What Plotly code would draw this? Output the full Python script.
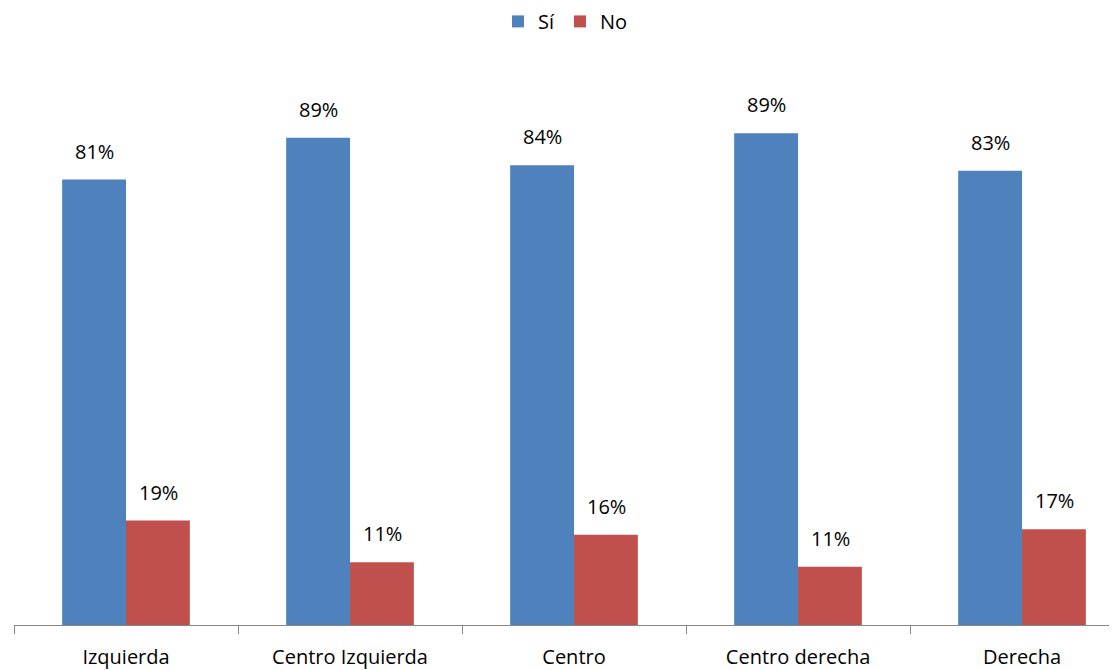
import plotly.graph_objects as go

categories = ['Izquierda', 'Centro Izquierda', 'Centro', 'Centro derecha', 'Derecha']
si_values = [81.0, 88.6, 83.6, 89.4, 82.6]
no_values = [19.0, 11.4, 16.4, 10.6, 17.4]
si_labels = ['81%', '89%', '84%', '89%', '83%']
no_labels = ['19%', '11%', '16%', '11%', '17%']

font_family = 'Open Sans, Lato, sans-serif'

fig = go.Figure()
fig.add_trace(go.Bar(
    x=categories, y=si_values, name='Sí',
    marker=dict(color='#4F81BD', line=dict(width=0)),
))
fig.add_trace(go.Bar(
    x=categories, y=no_values, name='No',
    marker=dict(color='#C0504D', line=dict(width=0)),
))

# value labels above each bar, shifted to the left (Sí) / right (No) bar of the group
for cat, v, lab in zip(categories, si_values, si_labels):
    fig.add_annotation(x=cat, y=v, text=lab, showarrow=False, xshift=-32,
                       yanchor='bottom', yshift=13, font=dict(size=20, color='black'))
for cat, v, lab in zip(categories, no_values, no_labels):
    fig.add_annotation(x=cat, y=v, text=lab, showarrow=False, xshift=32,
                       yanchor='bottom', yshift=13, font=dict(size=20, color='black'))

fig.update_layout(
    width=1117, height=670,
    margin=dict(l=6, r=8, t=67, b=53, autoexpand=False),
    paper_bgcolor='white', plot_bgcolor='white',
    font=dict(family=font_family, size=20, color='black'),
    barmode='group', bargap=0.43, bargroupgap=0,
    showlegend=True,
    legend=dict(orientation='h', x=0.5, xanchor='center', yref='container',
                y=0.98, yanchor='middle',
                font=dict(size=20), itemwidth=30, traceorder='normal'),
)
fig.update_xaxes(
    range=[-0.5, 4.424], tickson='boundaries', ticks='outside', ticklen=8,
    tickcolor='#868686', showline=True, linecolor='#868686', linewidth=1,
    showgrid=False, tickfont=dict(size=20), ticklabelstandoff=14,
)
fig.update_yaxes(range=[0, 100], visible=False, showgrid=False)

fig.write_html('out.html')
